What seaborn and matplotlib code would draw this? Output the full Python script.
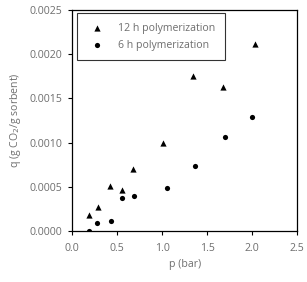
import pandas as pd
import seaborn as sns
import matplotlib.pyplot as plt

# 12 h polymerization
p_12h = [0.19, 0.29, 0.42, 0.55, 0.67, 1.01, 1.34, 1.67, 2.03]
q_12h = [0.00018, 0.00027, 0.00051, 0.00046, 0.00070, 0.00099, 0.00175, 0.00163, 0.00212]

# 6 h polymerization
p_6h = [0.19, 0.28, 0.43, 0.55, 0.69, 1.05, 1.36, 1.70, 2.00]
q_6h = [0.00000, 0.00009, 0.00011, 0.00037, 0.00039, 0.00049, 0.00073, 0.00106, 0.00129]

sns.set_style("ticks")
plt.rcParams['font.family'] = ['Open Sans', 'DejaVu Sans']

grey = '#6e6e6e'
fs = 7.6
fig = plt.figure(figsize=(3.07, 2.82), dpi=100)
ax = fig.add_axes([0.2355, 0.181, 0.7325, 0.7835])

sns.scatterplot(x=p_12h, y=q_12h, marker='^', s=20, color='black', edgecolor='black',
                linewidth=0, label='12 h polymerization', ax=ax)
sns.scatterplot(x=p_6h, y=q_6h, marker='o', s=14, color='black', edgecolor='black',
                linewidth=0, label='6 h polymerization', ax=ax)

ax.set_xlim(0, 2.5)
ax.set_ylim(0, 0.0025)
ax.set_xticks([0, 0.5, 1.0, 1.5, 2.0, 2.5])
ax.set_xticklabels(['0.0', '0.5', '1.0', '1.5', '2.0', '2.5'])
ax.set_yticks([0, 0.0005, 0.001, 0.0015, 0.002, 0.0025])
ax.set_yticklabels(['0.0000', '0.0005', '0.0010', '0.0015', '0.0020', '0.0025'])
ax.tick_params(axis='both', labelsize=fs, colors='black', labelcolor=grey,
               length=3, width=0.8)
ax.tick_params(axis='x', pad=6)
ax.tick_params(axis='y', pad=4)
for s in ax.spines.values():
    s.set_color('black')
    s.set_linewidth(0.9)

ax.set_xlabel('p (bar)', fontsize=fs, color=grey, labelpad=3)
ax.set_ylabel('q (g CO$_2$/g sorbent)', fontsize=fs, color=grey, labelpad=5)

leg = ax.legend(loc='upper left', bbox_to_anchor=(0.02, 0.985), borderaxespad=0,
                fontsize=fs, frameon=True, fancybox=False, handletextpad=1.0,
                borderpad=0.9, labelspacing=0.55, markerscale=1.0)
leg.get_frame().set_edgecolor('black')
leg.get_frame().set_linewidth(0.8)
for t in leg.get_texts():
    t.set_color(grey)

fig.savefig('out.png', dpi=100)
